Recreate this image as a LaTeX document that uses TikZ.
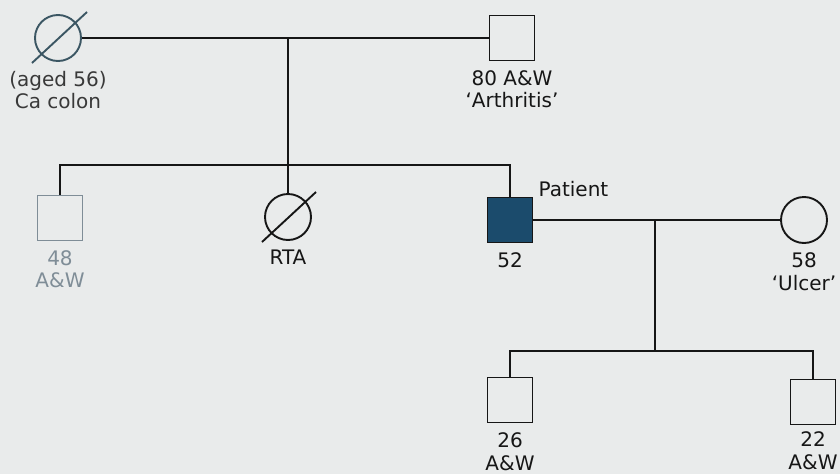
\documentclass[tikz,border=0pt]{standalone}
\usepackage{fontspec}
\setmainfont{DejaVu Sans}
\usetikzlibrary{positioning,calc}
\definecolor{fondo}{HTML}{E9EBEB}
\definecolor{tinta}{HTML}{161616}
\definecolor{tenue}{HTML}{7F8D97}
\definecolor{azul}{HTML}{1B4B6C}
\definecolor{gris}{HTML}{3B5663}

\begin{document}
\begin{tikzpicture}[x=1pt,y=-1pt,
    linea/.style={draw=tinta,line width=1.9pt},
    varon/.style={rectangle,draw=tinta,line width=1.9pt,minimum size=45pt,inner sep=0pt},
    mujer/.style={circle,draw=tinta,line width=1.9pt,minimum size=46pt,inner sep=0pt},
    texto/.style={align=center,inner sep=0pt,text=tinta,font=\fontsize{20}{22.5}\selectfont},
    node distance=9pt]
\begin{scope}
    %——————————————————————————————————————————————
    % Fondo y marco de la imagen
    %——————————————————————————————————————————————
    \fill[fondo] (0,0) rectangle (840,474);
    \useasboundingbox (0,0) rectangle (840,474);

    %——————————————————————————————————————————————
    % Primera generacion: abuela (fallecida) y abuelo
    %——————————————————————————————————————————————
    \node[mujer, draw=gris] (abuela) at (58,38) {};
    \draw[gris, line width=1.9pt] ($(abuela)+(-26,25)$) -- ($(abuela)+(29,-26)$);
    \node[varon] (abuelo) at (512,38) {};
    \draw[linea] (abuela) -- (abuelo);
    \node[texto, text=tinta!85, below=of abuela] (l-abuela) {(aged 56)\\Ca colon};
    \node[texto, below=of abuelo] (l-abuelo) {80 A\&W\\‘Arthritis’};

    %——————————————————————————————————————————————
    % Segunda generacion: hermanos y paciente
    %——————————————————————————————————————————————
    \coordinate (m1) at (288,38);
    \coordinate (s1) at (288,165);
    \node[varon, draw=tenue] (h1) at (60,218) {};
    \node[mujer] (rta) at (288,217) {};
    \draw[linea] ($(rta)+(-26,25)$) -- ($(rta)+(28,-25)$);
    \node[varon, fill=azul] (pac) at (510,220) {};
    \node[mujer] (esp) at (804,220) {};
    % Lineas de descendencia
    \draw[linea] (m1) -- (s1);
    \draw[linea] (h1.north) |- (s1) -| (pac.north);
    \draw[linea] (s1) -- (rta.north);
    % Matrimonio del paciente
    \draw[linea] (pac) -- (esp);
    % Etiquetas
    \node[texto, text=tenue, below=of h1] (l-h1) {48\\A\&W};
    \node[texto, below=of rta] (l-rta) {RTA};
    \node[texto, below=of pac] (l-pac) {52};
    \node[texto, anchor=base west] (l-paciente) at ([xshift=5pt]pac.north east) {Patient};
    \node[texto, below=of esp] (l-esp) {58\\‘Ulcer’};

    %——————————————————————————————————————————————
    % Tercera generacion: hijos del paciente
    %——————————————————————————————————————————————
    \coordinate (m2) at (655,220);
    \coordinate (s2) at (655,351);
    \node[varon] (n1) at (510,400) {};
    \node[varon] (n2) at (813,402) {};
    \draw[linea] (m2) -- (s2);
    \draw[linea] (n1.north) |- (s2) -| (n2.north);
    \node[texto, below=of n1] (l-n1) {26\\A\&W};
    \node[texto, below=6pt of n2] (l-n2) {22\\A\&W};
\end{scope}
\end{tikzpicture}
\end{document}
